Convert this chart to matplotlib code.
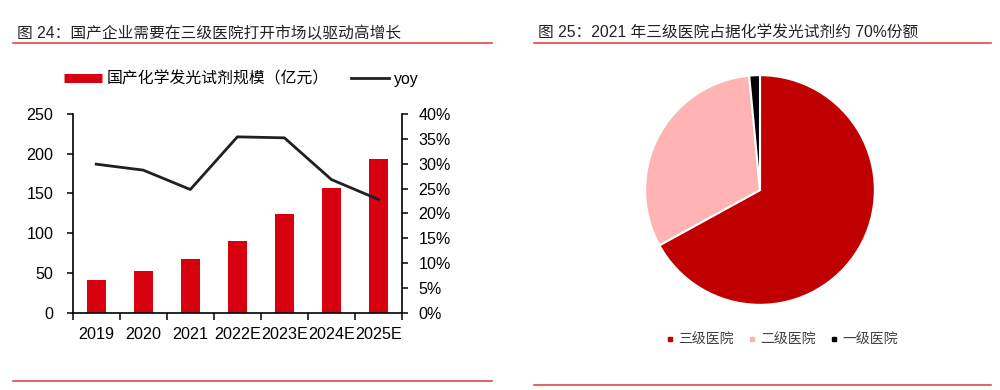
import numpy as np
import matplotlib
matplotlib.use('Agg')
import matplotlib.pyplot as plt
from matplotlib.lines import Line2D
from matplotlib.ticker import FuncFormatter

plt.rcParams['font.family'] = ['Liberation Sans', 'Noto Sans CJK SC', 'DejaVu Sans']

# left chart data
years = ['2019', '2020', '2021', '2022E', '2023E', '2024E', '2025E']
scale = [41, 53, 67, 90, 124, 157, 194]          # 亿元
yoy = [29.9, 28.7, 24.8, 35.4, 35.2, 26.8, 22.8]  # %

# right chart data
levels = ['三级医院', '二级医院', '一级医院']
shares = [67.0, 31.5, 1.5]

bar_red = '#D7000F'
line_col = '#231F20'
pie_cols = ['#C00000', '#FFB3B3', '#000000']
rule_red = '#E04848'
tick_fs = 11.6

fig = plt.figure(figsize=(10, 3.9), dpi=100)

# titles and rules
fig.text(0.017, 1 - 33 / 390, '图 24：国产企业需要在三级医院打开市场以驱动高增长',
         fontsize=11.3, color='#222222', va='center', ha='left')
fig.text(0.538, 1 - 32 / 390, '图 25：2021 年三级医院占据化学发光试剂约 70%份额',
         fontsize=11.3, color='#222222', va='center', ha='left')
for x0, x1, y in [(13, 492, 43), (534, 991, 43), (13, 492, 381), (534, 991, 385)]:
    fig.add_artist(Line2D([x0 / 1000, x1 / 1000], [1 - y / 390, 1 - y / 390],
                          color=rule_red, lw=1.2, transform=fig.transFigure))

# ---- bar + line chart
ax = fig.add_axes([0.0727, 1 - 312.7 / 390, 0.3293, (312.7 - 114) / 390])
x = np.arange(len(years))
ax.bar(x, scale, width=0.41, color=bar_red, zorder=2)
ax.set_xlim(-0.5, len(years) - 0.5)
ax.set_ylim(0, 250)
ax.set_yticks(range(0, 251, 50))
ax.set_xticks(x)
ax.set_xticklabels(years)
ax.set_xticks(np.arange(-0.5, len(years), 1), minor=True)
ax.tick_params(axis='x', which='major', length=0, pad=10, labelsize=tick_fs)
ax.tick_params(axis='x', which='minor', length=5, width=1.1, direction='out')
ax.tick_params(axis='y', length=4, width=1.1, direction='out', pad=10, labelsize=tick_fs)
ax.spines['top'].set_visible(False)
ax.spines['right'].set_visible(False)
for s in ['left', 'bottom']:
    ax.spines[s].set_linewidth(1.2)

ax2 = ax.twinx()
ax2.plot(x, yoy, color=line_col, lw=2, zorder=3)
ax2.set_ylim(0, 40)
ax2.set_yticks(range(0, 41, 5))
ax2.yaxis.set_major_formatter(FuncFormatter(lambda v, p: f'{v:.0f}%'))
ax2.tick_params(axis='y', length=4, width=1.1, direction='out', pad=8, labelsize=tick_fs)
ax2.spines['top'].set_visible(False)
ax2.spines['left'].set_visible(False)
ax2.spines['bottom'].set_visible(False)
ax2.spines['right'].set_linewidth(1.2)

h1 = Line2D([], [], color=bar_red, lw=6.5, solid_capstyle='butt')
h2 = Line2D([], [], color=line_col, lw=2)
fig.legend([h1, h2], ['国产化学发光试剂规模（亿元）', 'yoy'], ncol=2, frameon=False,
           loc='center left', bbox_to_anchor=(0.0643, 1 - 79 / 390),
           fontsize=11.4, handlelength=2.4, handletextpad=0.3, columnspacing=1.4,
           borderaxespad=0, borderpad=0)

# ---- pie chart
axp = fig.add_axes([0.644, 1 - 306 / 390, 0.232, 232 / 390])
axp.pie(shares, colors=pie_cols, startangle=90, counterclock=False,
        wedgeprops=dict(edgecolor='white', linewidth=1.5))
axp.set_xlim(-1.01, 1.01)
axp.set_ylim(-1.01, 1.01)
axp.set_aspect('equal')

hp = [Line2D([], [], ls='none', marker='s', markersize=3.2, color=c) for c in pie_cols]
fig.legend(hp, levels, ncol=3, frameon=False, loc='center left',
           bbox_to_anchor=(0.666, 1 - 340 / 390), fontsize=10, labelcolor='#404040',
           handlelength=0.6, handletextpad=0.3, columnspacing=1.0,
           borderaxespad=0, borderpad=0)

fig.savefig('out.png', dpi=100)
